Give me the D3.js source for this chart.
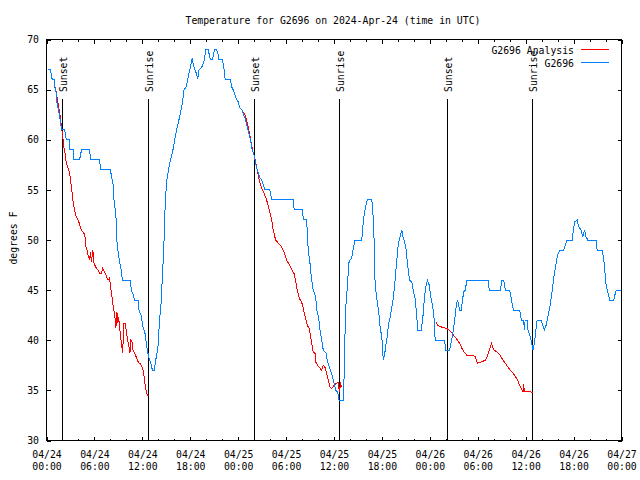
<!DOCTYPE html>
<html><head><meta charset="utf-8">
<script src="https://cdn.jsdelivr.net/npm/d3@7"></script>
<style>body{margin:0;background:#fff}svg{display:block}</style>
</head><body>
<svg id="c" width="640" height="480"></svg>
<script>
// ---- data ----
const titleText = "Temperature for G2696 on 2024-Apr-24 (time in UTC)";
const yLabel = "degrees F";
const seriesNames = ["G2696 Analysis", "G2696"];
const seriesColors = ["#ff0000", "#0080ff"];
const xMajorHours = [0,6,12,18,24,30,36,42,48,54,60,66,72];
const xMinorHours = [2,4,8,10,14,16,20,22,26,28,32,34,38,40,44,46,50,52,56,58,62,64,68,70];
const xTickDates = ["04/24","04/24","04/24","04/24","04/25","04/25","04/25","04/25","04/26","04/26","04/26","04/26","04/27"];
const xTickTimes = ["00:00","06:00","12:00","18:00","00:00","06:00","12:00","18:00","00:00","06:00","12:00","18:00","00:00"];
const yTicks = [30,35,40,45,50,55,60,65,70];
const sunLabels = ["Sunset","Sunrise","Sunset","Sunrise","Sunset","Sunrise"];
const sunHours = [1.92, 12.71, 26.0, 36.67, 50.14, 60.75];

// observed (hours since 04/24 00:00 UTC, deg F)
const obsSeries = [[0.16,67],[0.50,67],[0.59,66.5],[0.72,66],[0.97,66],[1.00,65.7],[1.09,65],[1.22,64.7],[1.29,63.8],[1.51,62.9],[1.72,62],[1.88,61],[2.26,61],[2.38,60.5],[2.47,60],[2.89,60],[2.90,59],[3.42,59],[3.43,58],[4.14,58],[4.39,59],[5.39,59],[5.52,58],[6.65,58],[6.77,57],[8.03,57],[8.12,56.3],[8.32,55.8],[8.40,54.3],[8.66,52.7],[8.74,51.7],[8.82,50],[8.85,49.5],[8.99,48.7],[9.16,47.8],[9.37,47],[9.50,46],[10.50,46],[10.62,45],[10.91,44.5],[11.00,44],[11.50,44],[11.58,43],[11.83,42.5],[12.08,41.3],[12.33,40.7],[12.51,39.7],[12.63,39],[12.76,38.5],[12.92,38],[13.13,37.5],[13.26,37],[13.51,37],[13.67,38],[13.84,38.7],[14.01,39.7],[14.09,41.2],[14.17,42.2],[14.30,43],[14.43,45],[14.55,47],[14.68,49],[14.76,51],[14.84,53],[15.02,55.7],[15.22,56.7],[15.43,57.7],[15.77,58.7],[16.06,60],[16.34,61.2],[16.68,62.3],[17.02,63.7],[17.22,65],[17.52,65.3],[17.72,66.2],[18.03,67.3],[18.23,68.1],[18.44,67.3],[18.69,66.8],[18.94,66.1],[19.10,67],[19.41,67.2],[19.69,67.7],[19.95,69],[20.23,69],[20.53,68],[20.79,68],[21.04,69],[21.29,69],[21.49,68.5],[21.58,68],[22.04,68],[22.24,67],[22.37,66],[23.04,66],[23.17,65.3],[23.37,65],[23.71,64.2],[24.00,63.8],[24.21,63.2],[24.46,63],[24.62,62.6],[24.84,62.2],[25.13,61.3],[25.46,60.3],[25.75,59],[25.97,58.5],[26.22,57.5],[26.51,56.7],[26.72,56.2],[26.93,56],[27.35,55],[27.97,55],[28.19,54],[30.90,54],[31.02,53],[32.08,53],[32.15,52],[32.58,52],[32.70,50],[32.78,49],[32.99,47.7],[33.20,46],[33.40,45],[33.71,44.3],[33.83,43],[34.08,42.3],[34.25,41],[34.46,40],[34.66,39],[35.00,38.7],[35.16,38],[35.41,37.3],[35.71,36.7],[35.91,36],[36.25,35],[36.47,34.8],[36.63,34],[37.17,34],[37.26,36.3],[37.38,40.7],[37.51,43.7],[37.67,45.3],[37.85,47.7],[38.01,48],[38.22,48.2],[38.42,49.2],[38.64,50],[39.48,50],[39.68,52],[39.89,53],[40.10,53.8],[40.23,54],[40.73,54],[40.86,53],[41.02,50],[41.06,46.8],[41.27,44.7],[41.48,43.5],[41.68,42.3],[41.77,41.3],[41.99,40.3],[42.11,38.7],[42.19,38],[42.36,38.7],[42.52,39.7],[42.69,40.5],[42.81,41.5],[43.03,42.3],[43.24,43.3],[43.44,44.3],[43.65,46],[43.86,48],[44.07,49.7],[44.28,50.3],[44.49,51],[44.62,50.3],[44.78,50],[45.00,49.2],[45.20,47.7],[45.45,46],[45.75,45.8],[45.95,44.8],[46.16,44.2],[46.38,42.3],[46.45,41],[46.91,41],[47.13,42.3],[47.33,44.3],[47.54,45.5],[47.70,46],[47.92,45.5],[48.13,44.3],[48.38,43.2],[48.55,42],[48.67,40],[49.84,40],[50.01,39],[50.47,39],[50.64,39.7],[50.84,40.5],[51.02,41.5],[51.18,42.5],[51.31,43.5],[51.47,44],[51.60,43.5],[51.72,43],[51.93,43],[52.10,44],[52.22,44.8],[52.43,45],[52.65,46],[55.28,46],[55.44,45],[56.82,45],[57.04,46],[57.24,46],[57.45,45],[57.99,45],[58.17,44.3],[58.29,43.7],[58.49,43],[59.25,43],[59.46,42],[59.75,42],[59.84,41],[59.93,42],[60.17,42],[60.30,41],[60.59,40.3],[60.80,39.5],[60.93,39],[61.09,39.7],[61.21,40.5],[61.43,42],[61.93,42],[62.13,41.5],[62.34,41],[62.56,41.5],[62.76,42.3],[63.01,43.2],[63.18,44.2],[63.38,45.3],[63.60,46.7],[63.81,47.7],[64.01,48.5],[64.26,49],[64.76,49],[64.98,49.5],[65.19,50],[65.82,50],[65.94,50.8],[66.14,51.8],[66.45,52],[66.65,51.3],[66.95,51],[67.15,50.3],[67.36,51],[67.57,50.3],[67.78,50],[68.83,50],[68.95,49],[69.58,49],[69.78,48],[69.91,47],[70.03,45.7],[70.28,44.8],[70.54,44],[71.04,44],[71.25,44.8],[71.38,45],[71.88,45]];

// analysis, three night-time segments
const anaNight1 = [[1.04,65.4],[1.22,64.7],[1.42,63.7],[1.63,62.8],[1.76,62],[1.92,61],[2.04,60.3],[2.17,59.3],[2.35,58.5],[2.47,57.7],[2.67,57.2],[2.89,56.7],[3.01,56],[3.17,55],[3.30,54],[3.51,53],[3.73,52.3],[4.05,51.8],[4.35,51],[4.64,50.7],[4.80,50.6],[4.89,49.5],[5.06,49],[5.23,48.4],[5.39,48],[5.52,48.8],[5.61,47.8],[5.81,49],[5.90,47.8],[6.15,47.3],[6.44,47],[6.65,46.7],[6.90,46.7],[7.02,47.2],[7.28,46.8],[7.49,46.4],[7.69,46],[7.90,46.2],[8.03,45.3],[8.15,44.7],[8.24,44],[8.40,43.2],[8.57,42.3],[8.69,41.2],[8.82,42.8],[8.94,41.7],[9.03,42.3],[9.16,41.3],[9.28,40.3],[9.41,39.7],[9.50,38.7],[9.62,40],[9.70,41.7],[9.87,41.7],[10.00,40.8],[10.12,40.2],[10.29,39.5],[10.45,38.7],[10.57,40],[10.75,39.8],[10.83,39],[11.04,38.7],[11.25,38.3],[11.50,37.8],[11.67,37.7],[11.88,37.5],[12.04,37.2],[12.17,36.7],[12.33,35.7],[12.51,34.8],[12.67,34.5],[12.83,34.5]];
const anaNight2 = [[24.55,62.8],[24.84,62.5],[25.05,62],[25.25,61.3],[25.46,60.5],[25.68,59.5],[25.88,58.7],[26.09,58.2],[26.31,57.3],[26.51,56.5],[26.72,55.7],[26.93,55.2],[27.22,54.7],[27.56,54],[27.89,53],[28.19,52],[28.39,51],[28.69,50],[29.01,49.7],[29.44,49.3],[29.64,49],[29.85,48.5],[30.07,48],[30.27,47.7],[30.57,47.3],[30.73,47],[30.98,46.7],[31.24,45.7],[31.40,45],[31.65,44.2],[31.95,43.8],[32.15,43.2],[32.40,42.3],[32.65,41.5],[32.87,41.2],[32.99,40.7],[33.20,39.8],[33.40,38.8],[33.62,38.7],[33.74,37.8],[33.96,37.5],[34.25,37.2],[34.46,37],[34.66,37.5],[34.87,37.3],[35.09,36.7],[35.29,36],[35.50,35.3],[35.71,35.2],[35.91,35.4],[36.25,35.7],[36.54,35.8],[36.67,34.8],[36.84,35.8],[36.92,35.3]];
const anaNight3 = [[48.80,41.8],[48.96,41.5],[49.51,41.3],[50.05,41.2],[50.47,41],[50.77,40.7],[51.05,40.4],[51.39,40.1],[51.72,39.7],[52.02,39.2],[52.31,38.8],[52.65,38.5],[53.06,38.5],[53.69,38.4],[53.82,38],[53.98,37.7],[54.32,37.8],[54.94,38],[55.16,38.3],[55.36,38.8],[55.57,39.3],[55.73,39.7],[55.91,39.2],[56.07,39],[56.49,38.8],[56.82,38.5],[57.16,38],[57.45,37.7],[57.79,37.3],[58.08,37],[58.42,36.7],[58.71,36.4],[58.99,36],[59.25,35.5],[59.42,35.2],[59.67,34.9],[59.75,35.6],[59.84,34.9],[60.38,34.9],[60.93,34.8]];

// ---- drawing ----
const FONT = "DejaVu Sans Mono";
const FS = "9.8px";
const svg = d3.select("#c");
const x = d3.scaleLinear().domain([0,72]).range([46.5,621.5]);
const y = d3.scaleLinear().domain([30,70]).range([440.5,39.5]);

function styleAxis(g){
  g.select(".domain").remove();
  g.attr("font-family", FONT).attr("font-size", FS);
  g.selectAll("line").attr("shape-rendering","crispEdges");
}

// bottom major with labels
const gB = svg.append("g").attr("transform",`translate(0,${y(30)})`)
  .call(d3.axisBottom(x).tickValues(xMajorHours).tickSizeInner(-4).tickSizeOuter(0).tickFormat((d,i)=>xTickDates[i]));
styleAxis(gB);
gB.selectAll("text").attr("dy",null).attr("y",null).each(function(d,i){
  const t = d3.select(this); t.text(null);
  t.append("tspan").attr("x",0).attr("y",17.5).text(xTickDates[i]);
  t.append("tspan").attr("x",0).attr("y",29.5).text(xTickTimes[i]);
});
// bottom minor
styleAxis(svg.append("g").attr("transform",`translate(0,${y(30)})`)
  .call(d3.axisBottom(x).tickValues(xMinorHours).tickSizeInner(-2).tickSizeOuter(0).tickFormat("")));
// top major/minor
styleAxis(svg.append("g").attr("transform",`translate(0,${y(70)})`)
  .call(d3.axisTop(x).tickValues(xMajorHours).tickSizeInner(-4).tickSizeOuter(0).tickFormat("")));
styleAxis(svg.append("g").attr("transform",`translate(0,${y(70)})`)
  .call(d3.axisTop(x).tickValues(xMinorHours).tickSizeInner(-2).tickSizeOuter(0).tickFormat("")));
// left
const gL = svg.append("g").attr("transform",`translate(${x(0)},0)`)
  .call(d3.axisLeft(y).tickValues(yTicks).tickSizeInner(-4).tickSizeOuter(0).tickPadding(7.5).tickFormat(d3.format("d")));
styleAxis(gL);
// right
styleAxis(svg.append("g").attr("transform",`translate(${x(72)},0)`)
  .call(d3.axisRight(y).tickValues(yTicks).tickSizeInner(-4).tickSizeOuter(0).tickFormat("")));

// frame
svg.append("rect").attr("x",x(0)).attr("y",y(70)).attr("width",x(72)-x(0)).attr("height",y(30)-y(70))
  .attr("fill","none").attr("stroke","#000").attr("shape-rendering","crispEdges");

// sunrise / sunset markers
const sun = svg.append("g");
sunHours.forEach((h,i)=>{
  const sx = Math.round(x(h)) + 0.5;
  sun.append("line").attr("x1",sx).attr("x2",sx).attr("y1",99).attr("y2",y(30))
    .attr("stroke","#000").attr("shape-rendering","crispEdges");
  sun.append("text").attr("transform",`translate(${sx+4.5},92) rotate(-90)`)
    .attr("font-family",FONT).attr("font-size",FS).attr("text-anchor","start").text(sunLabels[i]);
});

// lines
const line = d3.line().x(d=>x(d[0])).y(d=>y(d[1]));
[anaNight1, anaNight2, anaNight3].forEach(seg=>{
  svg.append("path").datum(seg).attr("d",line).attr("fill","none")
    .attr("stroke",seriesColors[0]).attr("stroke-width",1).attr("shape-rendering","crispEdges");
});
svg.append("path").datum(obsSeries).attr("d",line).attr("fill","none")
  .attr("stroke",seriesColors[1]).attr("stroke-width",1).attr("shape-rendering","crispEdges");

// legend
const legY = [49.5, 62.5];
seriesNames.forEach((n,i)=>{
  svg.append("text").attr("x",574).attr("y",legY[i]+4).attr("text-anchor","end")
    .attr("font-family",FONT).attr("font-size",FS).text(n);
  svg.append("line").attr("x1",581).attr("x2",609).attr("y1",legY[i]).attr("y2",legY[i])
    .attr("stroke",seriesColors[i]).attr("shape-rendering","crispEdges");
});

// title and y label
svg.append("text").attr("x",333).attr("y",24).attr("text-anchor","middle")
  .attr("font-family",FONT).attr("font-size",FS).text(titleText);
svg.append("text").attr("transform","translate(17,238) rotate(-90)").attr("text-anchor","middle")
  .attr("font-family",FONT).attr("font-size",FS).text(yLabel);
</script>
</body></html>
